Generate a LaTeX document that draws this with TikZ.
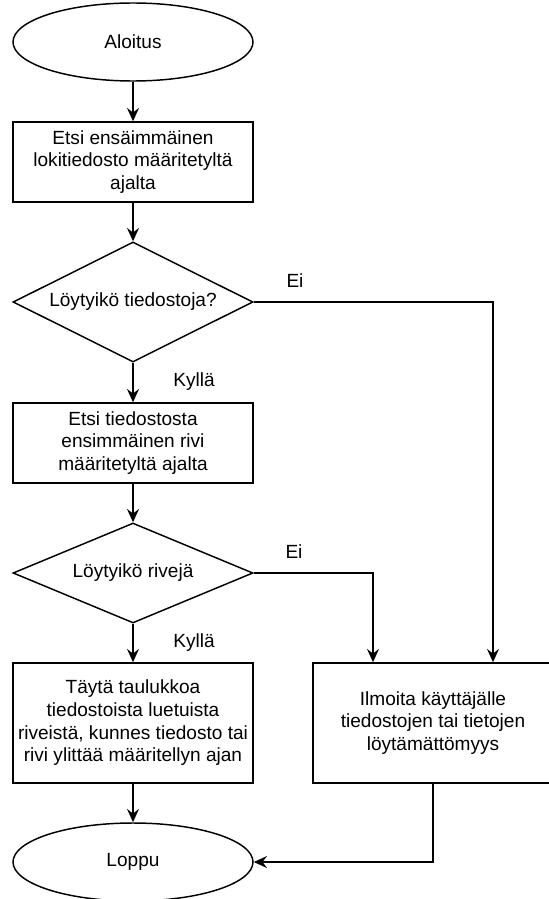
\documentclass[tikz,border=0pt]{standalone}
\usepackage{fontspec}
\setmainfont{Liberation Sans}
\usetikzlibrary{shapes.geometric,arrows.meta}

\begin{document}
\begin{tikzpicture}[x=0.75pt,y=-0.75pt,
        every node/.style={font=\fontsize{14.3}{17}\selectfont},
        terminal/.style={draw,ellipse,line width=1.1pt,minimum width=180pt,minimum height=58.5pt,inner sep=0pt},
        stepbox/.style={draw,rectangle,line width=1.1pt,minimum width=180pt,align=center,inner sep=0pt},
        decision/.style={draw,diamond,aspect=2,line width=1.1pt,minimum width=180pt,inner sep=0pt},
        arr/.style={-{Stealth[length=10pt,width=9pt,inset=3.5pt]},line width=1.1pt}]
        \useasboundingbox (0,0) rectangle (549,899);
        \node[terminal] (aloitus) at (133,42) {Aloitus};
        \node[stepbox,minimum height=60pt] (etsi1) at (133,162) {Etsi ensäimmäinen\\lokitiedosto määritetyltä\\ajalta};
        \node[decision,minimum height=90pt] (loytyi1) at (133,302) {Löytyikö tiedostoja?};
        \node[stepbox,minimum height=60pt] (etsi2) at (133,443) {Etsi tiedostosta\\ensimmäinen rivi\\määritetyltä ajalta};
        \node[decision,minimum height=75pt] (loytyi2) at (133,573) {Löytyikö rivejä};
        \node[stepbox,minimum height=90pt] (tayta) at (133,723) {Täytä taulukkoa\\tiedostoista luetuista\\riveistä, kunnes tiedosto tai\\rivi ylittää määritellyn ajan};
        \node[stepbox,minimum height=90pt] (ilmoita) at (433,723) {Ilmoita käyttäjälle\\tiedostojen tai tietojen\\löytämättömyys};
        \node[terminal] (loppu) at (133,862) {Loppu};
        % vastaukset
        \node (ei1) at (295,281) {Ei};
        \node (kylla1) at (194,382) {Kyllä};
        \node (ei2) at (294,552) {Ei};
        \node (kylla2) at (194,643) {Kyllä};
        \draw[arr] (aloitus) -- (etsi1);
        \draw[arr] (etsi1) -- (loytyi1);
        \draw[arr] (loytyi1) -- (etsi2);
        \draw[arr] (loytyi1.east) -| ([xshift=45pt]ilmoita.north);
        \draw[arr] (etsi2) -- (loytyi2);
        \draw[arr] (loytyi2) -- (tayta);
        \draw[arr] (loytyi2.east) -| ([xshift=-45pt]ilmoita.north);
        \draw[arr] (tayta) -- (loppu);
        \draw[arr] (ilmoita.south) |- (loppu.east);
    \end{tikzpicture}
\end{document}
